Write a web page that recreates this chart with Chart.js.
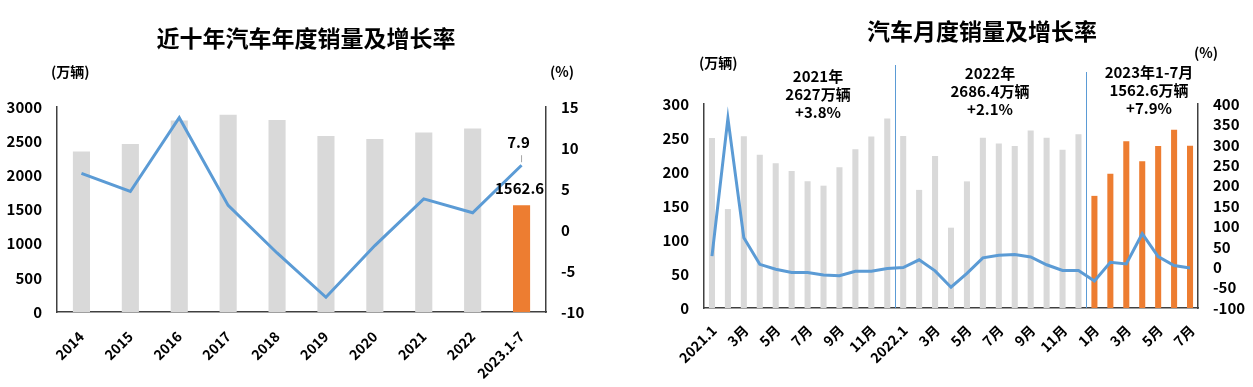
<!DOCTYPE html>
<html>
<head>
<meta charset="utf-8">
<script src="https://cdn.jsdelivr.net/npm/chart.js@4/dist/chart.umd.min.js"></script>
<style>
    html, body { margin: 0; padding: 0; background: #fff; }
    body { width: 1253px; height: 387px; position: relative; overflow: hidden;
           font-family: "Noto Sans CJK SC", "Noto Sans", sans-serif; color: #000; }
    .box { position: absolute; top: 0; height: 387px; }
    .txt { position: absolute; font-weight: bold; white-space: nowrap; }
    .title { font-size: 23px; transform: translate(-50%, -50%); }
    .unit { font-size: 14px; transform: translateY(-50%); }
    .note { font-size: 15px; line-height: 18px; text-align: center; transform: translateX(-50%); }
</style>
</head>
<body>
<div class="box" style="left:0;width:620px"><canvas id="chart-annual"></canvas></div>
<div class="box" style="left:630px;width:623px"><canvas id="chart-monthly"></canvas></div>

<div class="txt title" style="left:306px;top:37px">近十年汽车年度销量及增长率</div>
<div class="txt title" style="left:982px;top:30px">汽车月度销量及增长率</div>
<div class="txt unit" style="left:51px;top:71px">(万辆)</div>
<div class="txt unit" style="left:550px;top:71px">(%)</div>
<div class="txt unit" style="left:699px;top:62px">(万辆)</div>
<div class="txt unit" style="left:1194px;top:52px">(%)</div>
<div id="notes"></div>

<script>
const years = ['2014', '2015', '2016', '2017', '2018', '2019', '2020', '2021', '2022', '2023.1-7'];
const annualSales = [2349, 2460, 2803, 2888, 2808, 2576, 2531, 2627, 2686, 1562.6];
const annualGrowth = [6.9, 4.7, 13.7, 3.0, -2.8, -8.2, -1.9, 3.8, 2.1, 7.9];

const monthLabels = [
    '2021.1', '', '3月', '', '5月', '', '7月', '', '9月', '', '11月', '',
    '2022.1', '', '3月', '', '5月', '', '7月', '', '9月', '', '11月', '',
    '1月', '', '3月', '', '5月', '', '7月',
];
const monthlySales = [
    250, 145.5, 252.6, 225.2, 212.8, 201.5, 186.4, 179.9, 207.1, 233.3, 252.2, 278.6,
    253.1, 173.7, 223.4, 118.1, 186.2, 250.2, 242, 238.3, 261, 250.5, 232.6, 255.6,
    164.9, 197.6, 245.1, 215.9, 238.2, 262.2, 238.7,
];
const monthlyGrowth = [
    27, 365, 72, 7, -5, -13, -13, -19, -21, -10, -10, -3,
    -1, 18, -9, -49, -15, 23, 29, 31, 25, 6, -8, -8,
    -34, 12, 8, 82, 26, 4, -2,
];

const periodNotes = [
    { lines: ['2021年', '2627万辆', '+3.8%'], left: 818, top: 67 },
    { lines: ['2022年', '2686.4万辆', '+2.1%'], left: 990, top: 64 },
    { lines: ['2023年1-7月', '1562.6万辆', '+7.9%'], left: 1149, top: 63 },
];

const GREY = '#d9d9d9';
const ORANGE = '#ed7d31';
const BLUE = '#5b9bd5';
const AXIS = '#404040';
const FONT = '"Noto Sans CJK SC", "Noto Sans", sans-serif';

Chart.defaults.animation = false;
Chart.defaults.font.family = FONT;
Chart.defaults.color = '#000';

function fixWidth(w) {
    return (scale) => { scale.width = w; };
}

function fixHeight(h) {
    return (scale) => { scale.height = h; };
}

function yScale(position, min, max, step, width) {
    return {
        position,
        min, max,
        grid: { display: false, drawTicks: false },
        border: { display: true, color: AXIS, width: 1.5 },
        ticks: {
            stepSize: step, autoSkip: false, padding: 15,
            font: { size: 15, weight: 'bold' }, color: '#000',
            callback: (v) => String(v),
        },
        afterFit: fixWidth(width),
    };
}

function xScale(height, padding, offset) {
    return {
        grid: { display: false, drawTicks: false },
        border: { display: true, color: AXIS, width: 1.5 },
        ticks: {
            autoSkip: false, minRotation: 45, maxRotation: 45,
            padding, labelOffset: offset,
            font: { size: 14, weight: 'bold' }, color: '#000',
        },
        afterFit: fixHeight(height),
    };
}

// labels on the last year: growth value with a short leader line, and the sales value
const lastYearLabels = {
    id: 'lastYearLabels',
    afterDatasetsDraw(chart) {
        const { ctx } = chart;
        const i = years.length - 1;
        const xs = chart.scales.x;
        const x = xs.getPixelForValue(i);
        const yLine = chart.scales.y1.getPixelForValue(annualGrowth[i]);
        const yBar = chart.scales.y.getPixelForValue(annualSales[i]);
        ctx.save();
        ctx.strokeStyle = '#a6a6a6';
        ctx.lineWidth = 1;
        ctx.beginPath();
        ctx.moveTo(x, yLine - 3);
        ctx.lineTo(x, yLine - 10);
        ctx.stroke();
        ctx.fillStyle = '#000';
        ctx.font = 'bold 15px ' + FONT;
        ctx.textAlign = 'center';
        ctx.textBaseline = 'middle';
        ctx.fillText(String(annualGrowth[i]), x - 3, yLine - 23);
        ctx.fillText(String(annualSales[i]), x - 2, yBar - 17);
        ctx.restore();
    },
};

// thin separators between the years
const yearSeparators = {
    id: 'yearSeparators',
    beforeDatasetsDraw(chart) {
        const { ctx, chartArea } = chart;
        const xs = chart.scales.x;
        const cuts = [{ at: 12, top: 65 }, { at: 24, top: 72 }];
        ctx.save();
        ctx.strokeStyle = BLUE;
        ctx.lineWidth = 1;
        cuts.forEach((c) => {
            const x = Math.round((xs.getPixelForValue(c.at - 1) + xs.getPixelForValue(c.at)) / 2) + 0.5;
            ctx.beginPath();
            ctx.moveTo(x, c.top);
            ctx.lineTo(x, chartArea.bottom);
            ctx.stroke();
        });
        ctx.restore();
    },
};

function buildAnnual() {
    const canvas = document.getElementById('chart-annual');
    return new Chart(canvas, {
        data: {
            labels: years,
            datasets: [
                {
                    type: 'line',
                    data: annualGrowth,
                    yAxisID: 'y1',
                    borderColor: BLUE,
                    borderWidth: 3,
                    pointRadius: 0,
                    tension: 0,
                    order: 0,
                },
                {
                    type: 'bar',
                    data: annualSales,
                    yAxisID: 'y',
                    backgroundColor: annualSales.map((_, i) => (i === annualSales.length - 1 ? ORANGE : GREY)),
                    barPercentage: 0.35,
                    categoryPercentage: 1,
                    order: 1,
                },
            ],
        },
        options: {
            responsive: true,
            maintainAspectRatio: false,
            layout: { padding: { top: 107, left: 0, right: 0, bottom: 0 } },
            plugins: { legend: { display: false }, tooltip: { enabled: false } },
            scales: {
                x: xScale(75, 16, 0),
                y: yScale('left', 0, 3000, 500, 57),
                y1: yScale('right', -10, 15, 5, 74),
            },
        },
        plugins: [lastYearLabels],
    });
}

function buildMonthly() {
    const canvas = document.getElementById('chart-monthly');
    return new Chart(canvas, {
        data: {
            labels: monthLabels,
            datasets: [
                {
                    type: 'line',
                    data: monthlyGrowth,
                    yAxisID: 'y1',
                    borderColor: BLUE,
                    borderWidth: 3,
                    pointRadius: 0,
                    tension: 0,
                    order: 0,
                },
                {
                    type: 'bar',
                    data: monthlySales,
                    yAxisID: 'y',
                    backgroundColor: monthlySales.map((_, i) => (i >= 24 ? ORANGE : GREY)),
                    barPercentage: 0.38,
                    categoryPercentage: 1,
                    order: 1,
                },
            ],
        },
        options: {
            responsive: true,
            maintainAspectRatio: false,
            layout: { padding: { top: 104, left: 0, right: 0, bottom: 0 } },
            plugins: { legend: { display: false }, tooltip: { enabled: false } },
            scales: {
                x: xScale(79, 14, 2),
                y: yScale('left', 0, 300, 50, 74),
                y1: yScale('right', -100, 400, 50, 55),
            },
        },
        plugins: [yearSeparators],
    });
}

function renderNotes() {
    const box = document.getElementById('notes');
    periodNotes.forEach((n) => {
        const el = document.createElement('div');
        el.className = 'txt note';
        el.style.left = n.left + 'px';
        el.style.top = n.top + 'px';
        el.innerHTML = n.lines.join('<br>');
        box.appendChild(el);
    });
}

renderNotes();
buildAnnual();
buildMonthly();
</script>
</body>
</html>
